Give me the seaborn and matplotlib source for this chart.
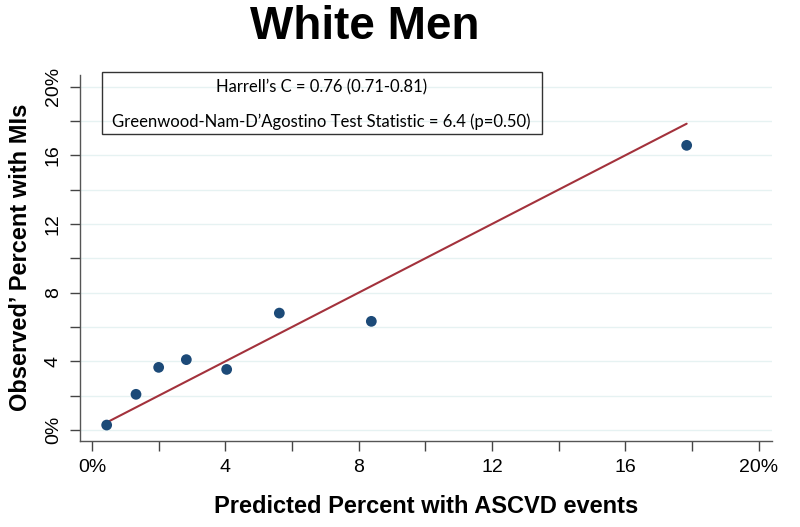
import numpy as np
import pandas as pd
import matplotlib
matplotlib.use("Agg")
import matplotlib.pyplot as plt
import seaborn as sns

# calibration data (percent)
predicted = [0.44, 1.32, 2.0, 2.83, 4.04, 5.62, 8.38, 17.84]
observed = [0.29, 2.08, 3.65, 4.10, 3.53, 6.81, 6.33, 16.58]
tick_vals = [0, 2, 4, 6, 8, 10, 12, 14, 16, 18, 20]
tick_labels = ["0%", "", "4", "", "8", "", "12", "", "16", "", "20%"]
stats_lines = ["Harrell\u2019s C = 0.76 (0.71-0.81)",
               "Greenwood-Nam-D\u2019Agostino Test Statistic = 6.4 (p=0.50)"]

df = pd.DataFrame({"predicted": predicted, "observed": observed})
ref = pd.DataFrame({"x": [min(predicted), max(predicted)],
                    "y": [min(predicted), max(predicted)]})

sns.set_style("white")
plt.rcParams["font.family"] = ["Liberation Sans", "DejaVu Sans"]
plt.rcParams["text.color"] = "black"
plt.rcParams["axes.labelcolor"] = "black"
plt.rcParams["xtick.color"] = "black"
plt.rcParams["ytick.color"] = "black"

fig = plt.figure(figsize=(8, 5.27), dpi=100)
ax = fig.add_axes([0.1, 0.1638, 0.865, 0.694])

for v in tick_vals:
    ax.axhline(v, color="#e6f2f2", lw=1, zorder=0)

sns.lineplot(data=ref, x="x", y="y", color="#a3323c", lw=1.5, ax=ax, zorder=2)
sns.scatterplot(data=df, x="predicted", y="observed", ax=ax, color="#1c4a78",
                s=60, marker="o", edgecolor="none", zorder=3)

ax.set_xlim(-0.36, 20.4)
ax.set_ylim(-0.62, 20.68)
ax.set_xticks(tick_vals)
ax.set_xticklabels(tick_labels, fontsize=14)
ax.set_yticks(tick_vals)
ax.set_yticklabels(tick_labels, fontsize=14, rotation=90, va="center")
ax.tick_params(axis="both", direction="out", length=7, width=1, color="#444444",
               left=True, bottom=True, pad=6)

for s in ["top", "right"]:
    ax.spines[s].set_visible(False)
for s in ["left", "bottom"]:
    ax.spines[s].set_color("#555555")
    ax.spines[s].set_linewidth(1)

ax.set_xlabel("Predicted Percent with ASCVD events", fontsize=17, fontweight="bold", labelpad=14)
ax.set_ylabel("Observed\u2019 Percent with MIs", fontsize=17, fontweight="bold", labelpad=9)
fig.suptitle("White Men", fontsize=33, fontweight="bold", x=0.456, y=0.99)

# stats box
box = plt.Rectangle((0.29, 17.22), 13.2, 3.61, fill=False, edgecolor="#333333",
                    lw=1, clip_on=False, zorder=4)
ax.add_patch(box)
ax.text(6.89, 19.98, stats_lines[0], ha="center", va="center", fontsize=12,
        family=["Lato", "DejaVu Sans"], zorder=5)
ax.text(6.89, 17.94, stats_lines[1], ha="center", va="center", fontsize=12,
        family=["Lato", "DejaVu Sans"], zorder=5)

fig.savefig("out.png", dpi=100)
